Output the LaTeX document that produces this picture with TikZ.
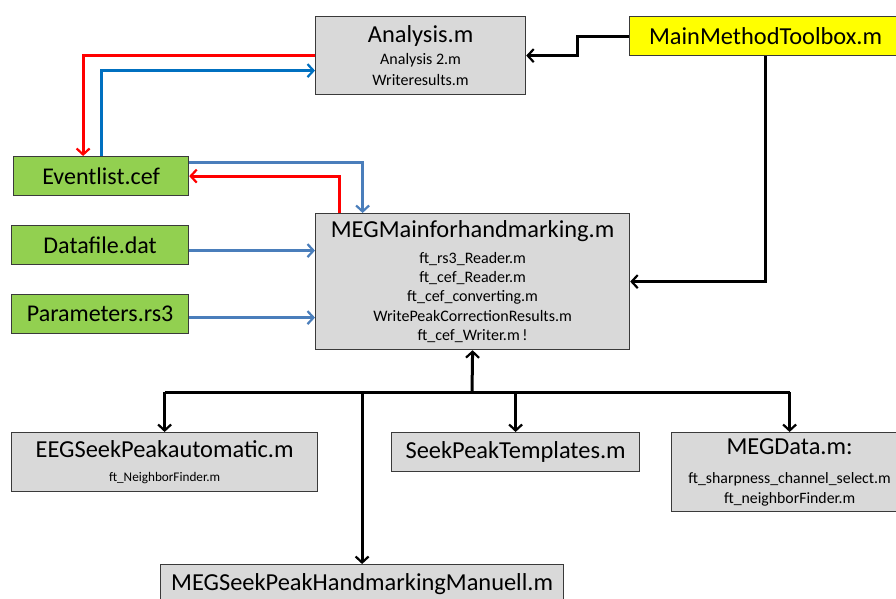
\documentclass[tikz,border=0pt]{standalone}
\usepackage{fontspec}
\setmainfont{Carlito}
\usetikzlibrary{arrows.meta}
\definecolor{boxgray}{HTML}{D9D9D9}
\definecolor{filegreen}{HTML}{92D050}
\definecolor{tbyellow}{HTML}{FFFF00}
\definecolor{linkred}{HTML}{FF0000}
\definecolor{linkblue}{HTML}{4A7EBB}
\definecolor{linkdblue}{HTML}{0070C0}
\definecolor{edgegray}{HTML}{3A3A3A}
\newcommand{\ttlf}{\fontsize{24.4}{28}\selectfont}
\newcommand{\subbig}{\fontsize{16}{19}\selectfont}
\newcommand{\subsml}{\fontsize{13.2}{16}\selectfont}
\begin{document}
\begin{tikzpicture}[x=1pt,y=-1pt,
  modbox/.style={draw=edgegray,line width=1.2pt,fill=boxgray,inner sep=0pt,align=center,anchor=north west},
  filebox/.style={draw=edgegray,line width=1.2pt,fill=filegreen,inner sep=0pt,align=center,anchor=north west,
    font=\fontsize{24}{28}\selectfont},
  link/.style={line width=2.8pt,-{Straight Barb[length=6pt,width=13pt,line width=2.2pt]}},
  blk/.style={link,draw=black,line width=3pt},
  red/.style={link,draw=linkred},
  blu/.style={link,draw=linkblue},
  dblu/.style={link,draw=linkdblue}]
\useasboundingbox (0,0) rectangle (896,599);
\fill[white] (0,0) rectangle (896,599);

% modules
\node[modbox,minimum width=210pt,minimum height=78pt,font=\fontsize{16}{21}\selectfont] (ana) at (315,16)
  {\ttlf Analysis.m\\[1pt]\subbig Analysis 2.m\\\subbig Writeresults.m};
\node[modbox,fill=tbyellow,minimum width=272pt,minimum height=39pt,font=\ttlf] (mmt) at (629,16)
  {MainMethodToolbox.m};
\node[modbox,minimum width=314pt,minimum height=136pt,font=\fontsize{16}{19.4}\selectfont] (meg) at (315,213)
  {\ttlf MEGMainforhandmarking.m\\[6.5pt]\subbig ft\_rs3\_Reader.m\\\subbig ft\_cef\_Reader.m\\\subbig ft\_cef\_converting.m\\\subbig WritePeakCorrectionResults.m\\\subbig ft\_cef\_Writer.m\,!};
\node[modbox,minimum width=306pt,minimum height=59pt,font=\fontsize{13.2}{24}\selectfont] (eeg) at (11,432)
  {\ttlf EEGSeekPeakautomatic.m\\\subsml ft\_NeighborFinder.m};
\node[modbox,minimum width=248pt,minimum height=39pt,font=\ttlf] (spt) at (391,432)
  {SeekPeakTemplates.m};
\node[modbox,minimum width=236pt,minimum height=79pt,font=\fontsize{15.8}{20}\selectfont] (megd) at (671,432)
  {\ttlf MEGData.m:\\[9pt]\fontsize{15.8}{19}\selectfont ft\_sharpness\_channel\_select.m\\\fontsize{15.8}{19}\selectfont ft\_neighborFinder.m};
\node[modbox,minimum width=403pt,minimum height=40pt,font=\ttlf] (msp) at (160,564)
  {MEGSeekPeakHandmarkingManuell.m};

% input files
\node[filebox,minimum width=175pt,minimum height=39pt] (ev) at (13,156) {Eventlist.cef};
\node[filebox,minimum width=177pt,minimum height=39pt] (df) at (11,225) {Datafile.dat};
\node[filebox,minimum width=177pt,minimum height=39pt] (par) at (11,294) {Parameters.rs3};

% toolbox calls
\draw[blk] (mmt.west) -- ++(-52,0) |- (ana.east);
\draw[blk] (mmt.south) |- (meg.east);

% event list exchange with the analysis
\draw[red] (ana.west) -| ([xshift=-18pt]ev.north);
\draw[dblu] (ev.north) |- ([yshift=-15pt]ana.west);

% event list exchange with the main script
\draw[blu] ([yshift=13.5pt]ev.east) -| ([xshift=-110pt]meg.north);
\draw[red] ([xshift=-133pt]meg.north) |- (ev.east);

% data inputs
\draw[blu] ([yshift=-5.5pt]df.east) -- ([yshift=-5.5pt]df.east -| meg.west);
\draw[blu] ([yshift=-3.5pt]par.east) -- ([yshift=-3.5pt]par.east -| meg.west);

% sub-module bus
\coordinate (bus) at (472,392);
\draw[blk] (bus) -- (meg.south);
\draw[line width=3pt] (eeg.north |- bus) -- (megd.north |- bus);
\draw[blk] (eeg.north |- bus) -- (eeg.north);
\draw[blk] (msp.north |- bus) -- (msp.north);
\draw[blk] (spt.north |- bus) -- (spt.north);
\draw[blk] (megd.north |- bus) -- (megd.north);
\end{tikzpicture}
\end{document}
